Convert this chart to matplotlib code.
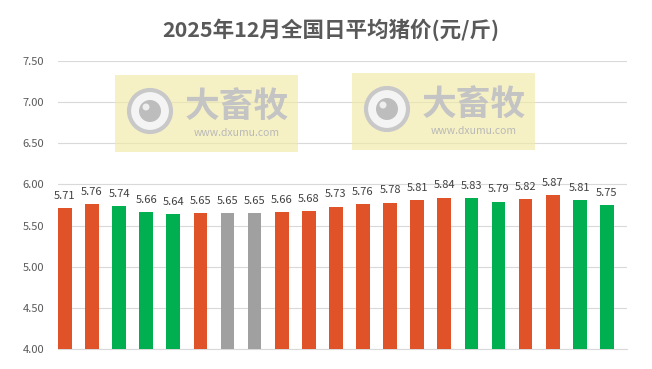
import matplotlib
matplotlib.use("Agg")
import matplotlib.pyplot as plt
from matplotlib.patches import Rectangle, Ellipse

plt.rcParams['font.family'] = ['Noto Sans CJK SC', 'DejaVu Sans']

title = "2025年12月全国日平均猪价(元/斤)"
values = [5.71, 5.76, 5.74, 5.66, 5.64, 5.65, 5.65, 5.65, 5.66, 5.68, 5.73,
          5.76, 5.78, 5.81, 5.84, 5.83, 5.79, 5.82, 5.87, 5.81, 5.75]
trend = ['up', 'up', 'down', 'down', 'down', 'up', 'flat', 'flat', 'up', 'up', 'up',
         'up', 'up', 'up', 'up', 'down', 'down', 'up', 'up', 'down', 'down']
yticks = [4.00, 4.50, 5.00, 5.50, 6.00, 6.50, 7.00, 7.50]
color_map = {'up': '#E05328', 'down': '#00B050', 'flat': '#A0A0A0'}

W, H = 652, 369
fig = plt.figure(figsize=(W / 100, H / 100), dpi=100)
ax = fig.add_axes([58 / W, 1 - 349 / H, (627 - 58) / W, (349 - 61) / H])

x = list(range(len(values)))
colors = [color_map[t] for t in trend]
ax.bar(x, values, width=0.505, color=colors, zorder=3)

for xi, v in zip(x, values):
    ax.annotate(f"{v:.2f}", (xi, v), xytext=(0, 8.8), textcoords='offset points',
                ha='center', va='center', fontsize=8, color='#404040', zorder=4)

ax.set_ylim(4.0, 7.5)
ax.set_xlim(-0.255, len(values) - 1 + 0.74)
ax.set_yticks(yticks)
ax.set_yticklabels([f"{t:.2f}" for t in yticks], fontsize=8, color='#595959')
ax.set_xticks([])
ax.grid(axis='y', color='#D9D9D9', linewidth=0.8, zorder=0)
for s in ['top', 'right', 'left']:
    ax.spines[s].set_visible(False)
ax.spines['bottom'].set_color('#D9D9D9')
ax.spines['bottom'].set_linewidth(0.8)
ax.tick_params(axis='y', length=0, pad=10)

fig.text(331 / W, 1 - 30 / H, title, ha='center', va='center', fontsize=15.5,
         fontweight='bold', color='#595959')

# watermarks
for (x0, y0) in [(115, 75), (352, 73)]:
    w, h = 183, 77
    fig.patches.append(Rectangle((x0 / W, 1 - (y0 + h) / H), w / W, h / H,
                                 transform=fig.transFigure, facecolor='#F2EAA6',
                                 alpha=0.65, edgecolor='none', zorder=5))
    cx, cy = x0 + 35, y0 + 36
    fig.patches.append(Ellipse((cx / W, 1 - cy / H), 42 / W, 42 / H,
                               transform=fig.transFigure, facecolor='#F4F4F4',
                               edgecolor='#C8C8C8', linewidth=3, zorder=6))
    fig.patches.append(Ellipse((cx / W, 1 - cy / H), 22 / W, 22 / H,
                               transform=fig.transFigure, facecolor='#BDBDBD',
                               edgecolor='none', zorder=7))
    fig.patches.append(Ellipse(((cx - 4) / W, 1 - (cy - 4) / H), 7 / W, 7 / H,
                               transform=fig.transFigure, facecolor='#EEEEEE',
                               edgecolor='none', zorder=8))
    fig.text((x0 + 122) / W, 1 - (y0 + 31) / H, "大畜牧", ha='center', va='center',
             fontsize=25, fontweight='bold', color='#C4C4C4', zorder=7)
    fig.text((x0 + 122) / W, 1 - (y0 + 58) / H, "www.dxumu.com", ha='center',
             va='center', fontsize=7.5, color='#B8B8B8', zorder=7)

fig.savefig("out.png", dpi=100)
